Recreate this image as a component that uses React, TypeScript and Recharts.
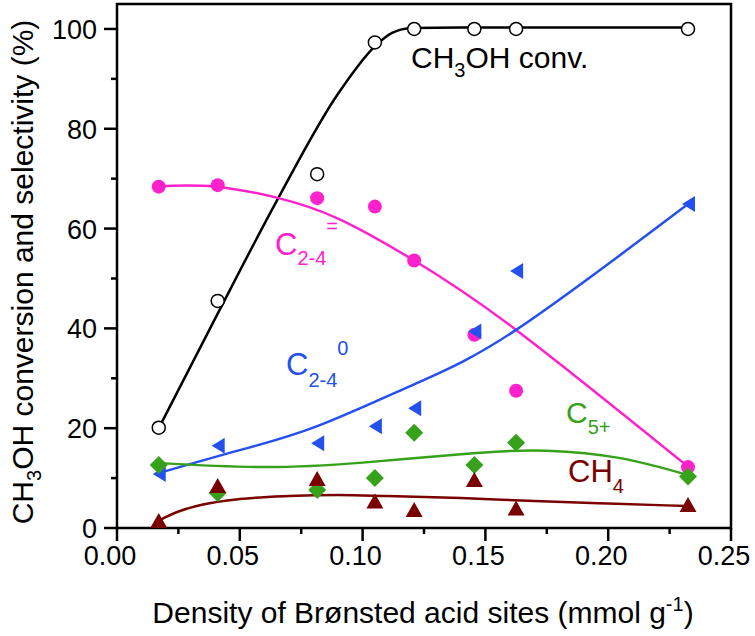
import React from 'react'
import {
  ComposedChart,
  Line,
  ReferenceArea,
  Scatter,
  XAxis,
  YAxis,
} from 'recharts'

// measured samples
const sites = [0.017, 0.041, 0.0815, 0.105, 0.121, 0.1455, 0.1625, 0.2325]
const conv = [20.1, 45.5, 70.9, 97.3, 100, 100, 100, 100]
const olefins = [68.4, 68.7, 66.1, 64.4, 53.6, 38.7, 27.5, 12.2]
const paraffins = [10.8, 16.5, 17.0, 20.4, 24.0, 39.4, 51.5, 64.9]
const c5plus = [12.6, 7.0, 7.6, 10.0, 19.1, 12.6, 17.1, 10.3]
const methane = [1.4, 8.4, 9.8, 5.3, 3.6, 9.6, 3.9, 4.6]

// guide curves
const convFitX = [0.017, 0.04, 0.065, 0.09, 0.105, 0.112, 0.12, 0.14, 0.2325]
const convFitY = [20, 42, 65.5, 87, 96.5, 99.2, 100.2, 100.3, 100.3]
const oleFitX = [0.017, 0.04, 0.065, 0.09, 0.121, 0.1625, 0.2325]
const oleFitY = [68.5, 68.4, 66.2, 62, 53.6, 39.7, 12.3]
const parFitX = [0.017, 0.05, 0.081, 0.121, 0.1625, 0.2325]
const parFitY = [11, 15.6, 20.3, 28.8, 39.7, 64.9]
const c5FitX = [0.017, 0.06, 0.1, 0.145, 0.175, 0.205, 0.2325]
const c5FitY = [13, 12.2, 13.1, 15, 15.5, 14, 10.6]
const ch4FitX = [0.017, 0.025, 0.035, 0.05, 0.07, 0.09, 0.11, 0.14, 0.17, 0.2, 0.2325]
const ch4FitY = [1.5, 3.3, 4.7, 5.8, 6.4, 6.6, 6.4, 6.0, 5.4, 4.9, 4.4]

const xTicks = [0, 0.025, 0.05, 0.075, 0.1, 0.125, 0.15, 0.175, 0.2, 0.225, 0.25]
const yTicks = [0, 10, 20, 30, 40, 50, 60, 70, 80, 90, 100]

const BLACK = '#000000'
const PINK = '#ff22cc'
const BLUE = '#2450f0'
const GREEN = '#36a11a'
const MAROON = '#7a0000'
const FONT = '"Liberation Sans", Arial, sans-serif'

const pts = (xs: number[], ys: number[]) => xs.map((x, i) => ({ x, y: ys[i] }))

const OpenCircle = ({ cx, cy }: any) => (
  <circle cx={cx} cy={cy} r={6.5} fill="#fff" stroke={BLACK} strokeWidth={1.5} />
)
const Dot = ({ cx, cy }: any) => <circle cx={cx} cy={cy} r={7} fill={PINK} />
const LeftTri = ({ cx, cy }: any) => (
  <path d={`M${cx - 6},${cy} L${cx + 7},${cy - 8} L${cx + 7},${cy + 8} Z`} fill={BLUE} />
)
const Diamond = ({ cx, cy }: any) => (
  <path d={`M${cx},${cy - 9} L${cx + 9},${cy} L${cx},${cy + 9} L${cx - 9},${cy} Z`} fill={GREEN} />
)
const UpTri = ({ cx, cy }: any) => (
  <path d={`M${cx},${cy - 8} L${cx + 8.5},${cy + 7} L${cx - 8.5},${cy + 7} Z`} fill={MAROON} />
)

const XTick = ({ x, y, payload }: any) => {
  const v = payload.value
  const major = Math.abs(v * 20 - Math.round(v * 20)) < 1e-6
  return (
    <g>
      <line x1={x} y1={y} x2={x} y2={y + (major ? 13 : 6)} stroke={BLACK} strokeWidth={2.5} />
      {major && (
        <text x={x - 7} y={y + 37} textAnchor="middle" fontSize={27} fontFamily={FONT} fill={BLACK}>
          {v.toFixed(2)}
        </text>
      )}
    </g>
  )
}

const YTick = ({ x, y, payload }: any) => {
  const v = payload.value
  const major = v % 20 === 0
  return (
    <g>
      <line x1={x} y1={y} x2={x - (major ? 13 : 6)} y2={y} stroke={BLACK} strokeWidth={2.5} />
      {major && (
        <text x={x - 20} y={y + 10} textAnchor="end" fontSize={27} fontFamily={FONT} fill={BLACK}>
          {v}
        </text>
      )}
    </g>
  )
}

export default function App() {
  return (
    <div style={{ position: 'absolute', left: 0, top: 0, width: 755, height: 636, background: '#fff' }}>
      <ComposedChart width={755} height={636} margin={{ top: 4, right: 24, left: 0, bottom: 0 }}>
        <XAxis
          type="number"
          dataKey="x"
          domain={[0, 0.25]}
          ticks={xTicks}
          interval={0}
          height={108}
          axisLine={false}
          tickLine={false}
          tickSize={0}
          tickMargin={0}
          tick={<XTick />}
          allowDataOverflow
        />
        <YAxis
          type="number"
          dataKey="y"
          domain={[0, 105]}
          ticks={yTicks}
          interval={0}
          width={117}
          axisLine={false}
          tickLine={false}
          tickSize={0}
          tickMargin={0}
          tick={<YTick />}
          allowDataOverflow
        />
        <ReferenceArea x1={0} x2={0.25} y1={0} y2={105} fill="none" stroke={BLACK} strokeWidth={2.5} />

        <Line data={pts(convFitX, convFitY)} dataKey="y" type="monotone" stroke={BLACK} strokeWidth={2.5} dot={false} isAnimationActive={false} />
        <Line data={pts(oleFitX, oleFitY)} dataKey="y" type="natural" stroke={PINK} strokeWidth={2.5} dot={false} isAnimationActive={false} />
        <Line data={pts(parFitX, parFitY)} dataKey="y" type="natural" stroke={BLUE} strokeWidth={2.5} dot={false} isAnimationActive={false} />
        <Line data={pts(c5FitX, c5FitY)} dataKey="y" type="natural" stroke={GREEN} strokeWidth={2.5} dot={false} isAnimationActive={false} />
        <Line data={pts(ch4FitX, ch4FitY)} dataKey="y" type="monotone" stroke={MAROON} strokeWidth={2.5} dot={false} isAnimationActive={false} />

        <Scatter data={pts(sites, conv)} dataKey="y" shape={<OpenCircle />} isAnimationActive={false} />
        <Scatter data={pts(sites, olefins)} dataKey="y" shape={<Dot />} isAnimationActive={false} />
        <Scatter data={pts(sites, paraffins)} dataKey="y" shape={<LeftTri />} isAnimationActive={false} />
        <Scatter data={pts(sites, c5plus)} dataKey="y" shape={<Diamond />} isAnimationActive={false} />
        <Scatter data={pts(sites, methane)} dataKey="y" shape={<UpTri />} isAnimationActive={false} />
      </ComposedChart>

      <svg width={755} height={636} style={{ position: 'absolute', left: 0, top: 0, pointerEvents: 'none' }} fontFamily={FONT}>
        <text transform="translate(33,272) rotate(-90)" textAnchor="middle" fontSize={30} fill={BLACK}>
          CH<tspan fontSize={20} dy={8}>3</tspan>
          <tspan dy={-8}>OH conversion and selectivity (%)</tspan>
        </text>
        <text x={423} y={623} textAnchor="middle" fontSize={30} fill={BLACK}>
          Density of Brønsted acid sites (mmol g<tspan fontSize={20} dy={-12}>-1</tspan>
          <tspan dy={12}>)</tspan>
        </text>

        <text x={411} y={68} fontSize={30} fill={BLACK}>
          CH<tspan fontSize={20} dy={9}>3</tspan>
          <tspan dy={-9}>OH conv.</tspan>
        </text>
        <text x={275} y={255} fontSize={31} fill={PINK}>
          C<tspan fontSize={20} dy={10}>2-4</tspan>
          <tspan fontSize={20} dy={-32}>=</tspan>
        </text>
        <text x={286} y={375} fontSize={31} fill={BLUE}>
          C<tspan fontSize={20} dy={12}>2-4</tspan>
          <tspan fontSize={20} dy={-32}>0</tspan>
        </text>
        <text x={566} y={423} fontSize={30} fill={GREEN}>
          C<tspan fontSize={20} dy={11}>5+</tspan>
        </text>
        <text x={568} y={482} fontSize={31} fill={MAROON}>
          CH<tspan fontSize={20} dy={11}>4</tspan>
        </text>
      </svg>
    </div>
  )
}
